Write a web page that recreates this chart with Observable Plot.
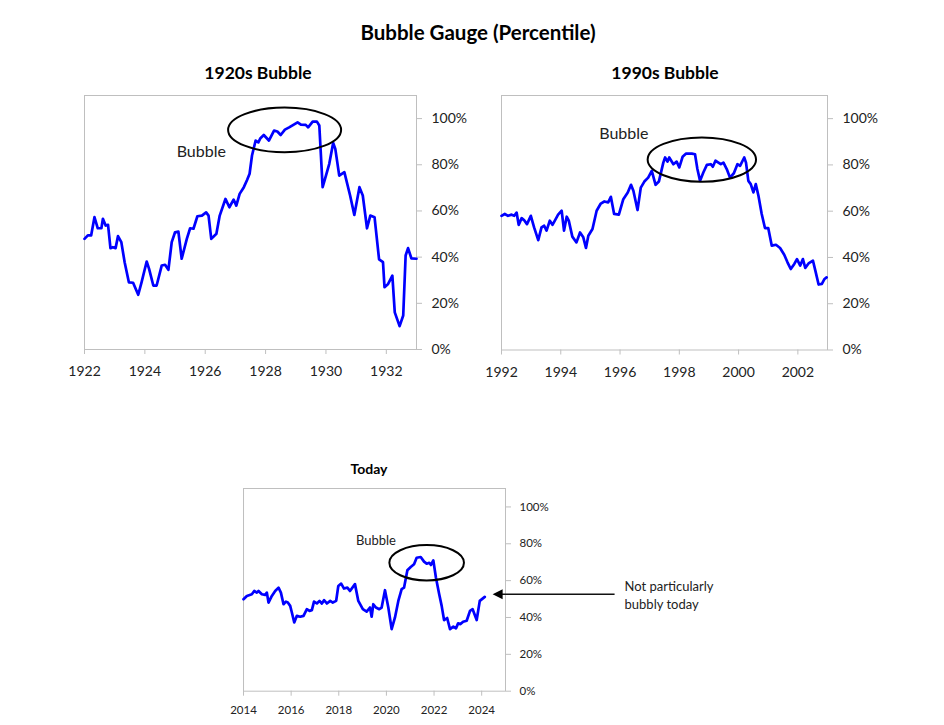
<!DOCTYPE html>
<html><head><meta charset="utf-8">
<script src="https://cdn.jsdelivr.net/npm/d3@7"></script>
<script src="https://cdn.jsdelivr.net/npm/@observablehq/plot@0.6"></script>
<style>
body{margin:0;background:#fff;font-family:Lato,"Open Sans",sans-serif;}
#root{position:relative;width:944px;height:725px;overflow:hidden;background:#fff;}
.t{position:absolute;font-weight:700;color:#000;white-space:nowrap;transform:translate(-50%,-50%);line-height:1;}
.p{position:absolute;}
</style></head><body><div id="root"></div><script>
// ---------- data ----------
const years1920s = [1922.0,1922.11,1922.22,1922.33,1922.44,1922.56,1922.61,1922.7,1922.78,1922.86,1922.94,1923.03,1923.11,1923.22,1923.33,1923.47,1923.61,1923.78,1923.89,1924.06,1924.14,1924.28,1924.39,1924.56,1924.67,1924.78,1924.89,1925.0,1925.11,1925.22,1925.39,1925.5,1925.61,1925.74,1925.89,1926.03,1926.11,1926.2,1926.37,1926.48,1926.67,1926.8,1926.94,1927.03,1927.14,1927.28,1927.39,1927.47,1927.55,1927.67,1927.76,1927.83,1927.94,1928.11,1928.28,1928.39,1928.5,1928.64,1928.78,1928.92,1929.06,1929.17,1929.33,1929.41,1929.56,1929.7,1929.78,1929.89,1930.0,1930.11,1930.24,1930.31,1930.44,1930.61,1930.8,1930.94,1931.11,1931.22,1931.36,1931.47,1931.61,1931.76,1931.89,1931.94,1932.06,1932.2,1932.28,1932.44,1932.56,1932.64,1932.72,1932.83,1933.0];
const values1920s = [47.9,49.4,49.4,57.3,52.5,52.5,56.6,53.7,54.0,43.9,44.3,43.9,49.1,46.5,37.8,29.1,28.9,23.7,29.1,38.1,34.9,27.7,27.7,36.4,36.7,34.5,46.5,50.8,51.1,39.3,47.9,52.5,52.3,57.7,58.0,59.4,58.0,47.9,50.1,58.0,65.2,61.6,64.9,62.3,67.4,70.3,73.5,76.1,84.0,90.5,89.7,91.5,92.9,90.5,94.8,94.4,92.9,95.2,96.2,97.3,98.4,97.4,97.3,96.2,98.7,98.7,97.0,70.3,75.3,80.4,89.5,86.9,75.3,76.8,66.7,58.3,70.3,66.7,52.5,58.0,57.3,39.0,37.8,27.0,28.4,32.0,16.1,10.1,14.7,40.7,43.9,39.5,39.3];

const years1990s = [1992.0,1992.11,1992.22,1992.34,1992.43,1992.51,1992.58,1992.68,1992.76,1992.86,1992.99,1993.1,1993.24,1993.35,1993.44,1993.52,1993.63,1993.72,1993.8,1993.91,1994.03,1994.11,1994.2,1994.27,1994.39,1994.53,1994.65,1994.76,1994.85,1994.93,1995.07,1995.21,1995.35,1995.47,1995.6,1995.69,1995.8,1995.96,1996.11,1996.26,1996.37,1996.45,1996.59,1996.7,1996.82,1996.95,1997.07,1997.2,1997.31,1997.46,1997.52,1997.6,1997.66,1997.8,1997.91,1998.0,1998.11,1998.23,1998.42,1998.53,1998.61,1998.7,1998.81,1998.93,1999.06,1999.13,1999.22,1999.32,1999.4,1999.49,1999.6,1999.71,1999.84,1999.96,2000.05,2000.19,2000.25,2000.33,2000.41,2000.5,2000.58,2000.67,2000.78,2000.89,2001.0,2001.12,2001.26,2001.4,2001.54,2001.65,2001.76,2001.88,2001.97,2002.08,2002.17,2002.25,2002.36,2002.51,2002.59,2002.7,2002.81,2002.9,2002.97];
const values1990s = [58.0,58.8,58.0,58.5,58.0,59.4,54.1,57.0,56.2,54.4,58.0,53.0,47.5,53.0,53.7,51.6,55.9,54.1,55.9,58.5,60.2,51.6,57.6,55.9,49.0,46.5,50.8,48.7,44.1,49.4,52.3,60.2,63.3,64.2,63.8,66.2,58.8,58.5,65.2,68.1,71.4,68.8,60.5,70.2,72.8,74.5,77.4,71.4,72.8,81.0,83.2,81.4,83.2,80.3,81.4,78.9,83.5,84.9,84.9,84.6,78.2,73.1,76.7,80.0,80.3,79.2,81.8,81.0,80.3,81.0,78.2,74.5,76.4,80.3,79.6,83.2,81.0,73.1,71.7,68.1,71.7,66.7,58.8,52.7,52.7,45.1,45.5,44.1,41.2,37.9,35.0,37.2,39.3,36.5,39.3,35.5,37.4,38.6,34.3,28.3,28.6,30.7,31.4];

const yearsToday = [2014.0,2014.14,2014.35,2014.45,2014.56,2014.63,2014.77,2014.91,2014.98,2015.05,2015.19,2015.33,2015.47,2015.57,2015.68,2015.78,2015.86,2015.96,2016.03,2016.13,2016.24,2016.38,2016.52,2016.66,2016.77,2016.87,2016.96,2017.08,2017.19,2017.29,2017.38,2017.5,2017.64,2017.75,2017.89,2017.98,2018.1,2018.22,2018.36,2018.47,2018.68,2018.82,2019.01,2019.17,2019.31,2019.38,2019.45,2019.56,2019.7,2019.8,2019.94,2020.08,2020.22,2020.36,2020.5,2020.64,2020.74,2020.88,2021.02,2021.16,2021.27,2021.44,2021.58,2021.69,2021.8,2021.87,2021.97,2022.08,2022.21,2022.32,2022.42,2022.55,2022.67,2022.81,2022.92,2023.01,2023.11,2023.22,2023.37,2023.51,2023.62,2023.79,2023.92,2024.13];
const valuesToday = [49.9,51.7,52.6,54.4,53.5,54.4,52.6,52.3,53.5,48.1,51.7,54.4,56.2,53.5,47.2,48.6,48.1,46.3,42.7,37.3,40.9,40.4,40.9,44.5,43.6,44.0,48.6,47.6,49.0,47.6,49.4,47.6,49.0,48.1,49.0,57.1,58.4,55.7,56.2,54.4,58.1,49.0,44.5,43.2,45.4,40.4,47.2,45.4,44.5,45.4,54.8,45.4,33.7,40.0,49.0,55.4,56.2,65.6,67.4,68.9,72.4,72.8,70.3,69.2,69.7,68.5,71.0,61.6,53.0,46.3,38.6,39.7,33.7,35.0,34.1,36.8,36.4,37.7,38.2,43.6,44.5,38.6,49.0,51.2];

const yTicks = [0, 20, 40, 60, 80, 100];
const xTicks1920s = [1922, 1924, 1926, 1928, 1930, 1932];
const xTicks1990s = [1992, 1994, 1996, 1998, 2000, 2002];
const xTicksToday = [2014, 2016, 2018, 2020, 2022, 2024];

const titles = ["Bubble Gauge (Percentile)", "1920s Bubble", "1990s Bubble", "Today"];

// annotation anchors (data units)
const bubbleLabel1920s = [{x: 1925.87, y: 85.7, text: "Bubble"}];
const bubbleOval1920s = [{x: 1928.63, y: 95.1}];
const bubbleLabel1990s = [{x: 1996.13, y: 93.4, text: "Bubble"}];
const bubbleOval1990s = [{x: 1998.76, y: 82.3}];
const bubbleLabelToday = [{x: 2019.56, y: 81.8, text: "Bubble"}];
const bubbleOvalToday = [{x: 2021.69, y: 69.7}];
const noteToday = [{x: 2030.0, y: 52.6, text: "Not particularly\nbubbly today"}];
const arrowToday = [{x1: 2029.58, x2: 2024.6, y: 52.6}];
const arrowTipToday = [{x: 2024.46, y: 52.6}];

// ---------- helpers ----------
const zip = (xs, ys) => xs.map((x, i) => ({year: x, value: ys[i]}));
function ellipse(rx, ry) {
  const k = 0.5523;
  return {draw(c) {
    c.moveTo(rx, 0);
    c.bezierCurveTo(rx, ry * k, rx * k, ry, 0, ry);
    c.bezierCurveTo(-rx * k, ry, -rx, ry * k, -rx, 0);
    c.bezierCurveTo(-rx, -ry * k, -rx * k, -ry, 0, -ry);
    c.bezierCurveTo(rx * k, -ry, rx, -ry * k, rx, 0);
    c.closePath();
  }};
}
const arrowHead = {draw(c) { c.moveTo(0, 0); c.lineTo(10, -5); c.lineTo(10, 5); c.closePath(); }};

const root = document.getElementById("root");
function addTitle(text, x, y, size) {
  const d = document.createElement("div");
  d.className = "t"; d.textContent = text;
  d.style.left = x + "px"; d.style.top = y + "px"; d.style.fontSize = size + "px";
  root.appendChild(d);
}

function panel(o) {
  const mL = 20, mT = 10;
  const w = (o.right - o.left) + mL + o.mR;
  const h = (o.bottom - o.top) + mT + o.mB;
  const marks = [
    Plot.frame({stroke: "#bfbfbf", strokeWidth: 1}),
    Plot.axisY({ticks: yTicks, anchor: "right", tickSize: 5, tickPadding: o.yPad, tickFormat: d => d + "%", stroke: "#bfbfbf", fill: "#222", fontSize: o.fs}),
    Plot.axisX({ticks: o.xTicks, anchor: "bottom", tickSize: 5, tickPadding: o.xPad, tickFormat: d => String(d), stroke: "#bfbfbf", fill: "#222", fontSize: o.fs}),
    Plot.line(zip(o.years, o.values), {x: "year", y: "value", stroke: "#0000ff", strokeWidth: 2.7, strokeLinejoin: "round"}),
    Plot.dot(o.oval, {x: "x", y: "y", r: 1, symbol: ellipse(o.rx, o.ry), stroke: "#000", strokeWidth: 2, fill: "none"}),
    Plot.text(o.label, {x: "x", y: "y", text: "text", fontSize: o.afs, fill: "#222"}),
    ...(o.extra || [])
  ];
  const svg = Plot.plot({
    width: w, height: h, marginLeft: mL, marginRight: o.mR, marginTop: mT, marginBottom: o.mB,
    style: {fontFamily: "Lato, 'Open Sans', sans-serif", fontSize: o.fs + "px", color: "#222", background: "transparent", overflow: "visible"},
    x: {domain: o.xDomain},
    y: {domain: [0, 110]},
    marks
  });
  svg.classList.add("p");
  svg.style.left = (o.left - mL) + "px";
  svg.style.top = (o.top - mT) + "px";
  root.appendChild(svg);
}

addTitle(titles[0], 478, 32, 20.5);
addTitle(titles[1], 258, 73, 17.5);
addTitle(titles[2], 665, 73, 17.5);
addTitle(titles[3], 369, 469, 14);

panel({left: 84, right: 416, top: 95, bottom: 349, mR: 70, mB: 35, fs: 14, afs: 16, yPad: 10, xPad: 12,
  xDomain: [1922, 1933], xTicks: xTicks1920s, years: years1920s, values: values1920s,
  oval: bubbleOval1920s, rx: 56.5, ry: 22.3, label: bubbleLabel1920s});

panel({left: 501, right: 827, top: 95, bottom: 349.5, mR: 70, mB: 35, fs: 14, afs: 16, yPad: 10, xPad: 12,
  xDomain: [1992, 2003], xTicks: xTicks1990s, years: years1990s, values: values1990s,
  oval: bubbleOval1990s, rx: 54.2, ry: 22.2, label: bubbleLabel1990s});

panel({left: 243, right: 505, top: 488, bottom: 690.7, mR: 230, mB: 30, fs: 11.5, afs: 13, yPad: 9, xPad: 10,
  xDomain: [2014, 2025], xTicks: xTicksToday, years: yearsToday, values: valuesToday,
  oval: bubbleOvalToday, rx: 37.3, ry: 17.7, label: bubbleLabelToday,
  extra: [
    Plot.link(arrowToday, {x1: "x1", x2: "x2", y1: "y", y2: "y", stroke: "#111", strokeWidth: 1.3}),
    Plot.dot(arrowTipToday, {x: "x", y: "y", r: 1, symbol: arrowHead, fill: "#000", stroke: "none"}),
    Plot.text(noteToday, {x: "x", y: "y", text: "text", textAnchor: "start", lineHeight: 1.4, fontSize: 13, fill: "#222"})
  ]});
</script></body></html>
